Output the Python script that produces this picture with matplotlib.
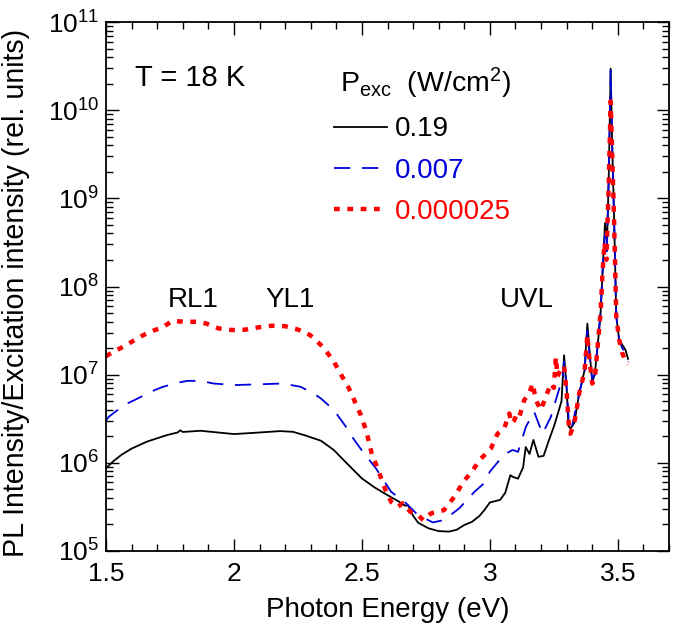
import numpy as np
import matplotlib
matplotlib.use("Agg")
import matplotlib.pyplot as plt
from matplotlib.ticker import MultipleLocator, LogLocator, LogFormatterMathtext, NullFormatter

plt.rcParams["font.family"] = ["Liberation Sans", "DejaVu Sans"]
plt.rcParams["mathtext.fontset"] = "custom"
plt.rcParams["mathtext.rm"] = "Liberation Sans"
plt.rcParams["mathtext.it"] = "Liberation Sans:italic"

# photon energy (eV) and PL intensity / excitation intensity (rel. units)
energy_019 = [1.50, 1.53, 1.56, 1.60, 1.66, 1.70, 1.74, 1.78, 1.79, 1.80, 1.87, 1.95,
              2.00, 2.08, 2.18, 2.23, 2.28, 2.34, 2.39, 2.41, 2.45, 2.50, 2.55, 2.60,
              2.64, 2.67, 2.68, 2.70, 2.72, 2.76, 2.80, 2.84, 2.87, 2.90, 2.93, 2.96,
              2.98, 3.00, 3.04, 3.06, 3.08, 3.09, 3.11, 3.13, 3.14, 3.155, 3.17, 3.19,
              3.21, 3.23, 3.25, 3.27, 3.28, 3.29, 3.30, 3.307, 3.315, 3.33, 3.35, 3.37,
              3.381, 3.39, 3.40, 3.41, 3.425, 3.433, 3.44, 3.45, 3.458, 3.465, 3.472,
              3.478, 3.485, 3.494, 3.505, 3.517, 3.53, 3.54]
pl_019 = [8.7e5, 1.05e6, 1.23e6, 1.45e6, 1.74e6, 1.9e6, 2.07e6, 2.21e6, 2.34e6, 2.24e6,
          2.31e6, 2.19e6, 2.12e6, 2.19e6, 2.29e6, 2.25e6, 2.04e6, 1.78e6, 1.4e6, 1.22e6,
          9.3e5, 6.65e5, 5.25e5, 4.3e5, 3.7e5, 3.26e5, 3.31e5, 2.51e5, 2.09e5, 1.81e5,
          1.68e5, 1.66e5, 1.74e5, 1.97e5, 2.14e5, 2.51e5, 2.95e5, 3.55e5, 3.8e5, 4.57e5,
          7.24e5, 6.92e5, 6.61e5, 8.91e5, 1.51e6, 1.26e6, 1.82e6, 1.17e6, 1.2e6, 1.78e6,
          2.57e6, 3.98e6, 5.01e6, 1.66e7, 7.08e6, 2.63e6, 2.45e6, 2.82e6, 6.31e6, 1.12e7,
          3.8e7, 1.78e7, 8.3e6, 1.0e7, 2.82e7, 5.25e7, 1.41e8, 5.25e8, 3.16e8, 2.0e9,
          2.95e10, 3.98e9, 6.76e8, 4.57e7, 2.51e7, 2.19e7, 1.91e7, 1.51e7]

energy_0007 = [1.50, 1.51, 1.57, 1.61, 1.69, 1.72, 1.78, 1.82, 1.87, 1.92, 2.00, 2.09,
               2.19, 2.26, 2.31, 2.34, 2.39, 2.41, 2.44, 2.47, 2.50, 2.555, 2.614, 2.673,
               2.718, 2.777, 2.82, 2.88, 2.94, 2.978, 3.00, 3.037, 3.06, 3.089, 3.11,
               3.141, 3.173, 3.19, 3.206, 3.238, 3.27, 3.283, 3.29, 3.30, 3.31, 3.32,
               3.35, 3.37, 3.381, 3.39, 3.40, 3.41, 3.425, 3.433, 3.44, 3.45, 3.457,
               3.465, 3.472, 3.478, 3.485, 3.494, 3.505, 3.517, 3.53, 3.54]
pl_0007 = [3.02e6, 3.31e6, 4.52e6, 5.13e6, 6.68e6, 7.24e6, 8.13e6, 8.51e6, 8.51e6, 7.94e6,
           7.62e6, 7.76e6, 7.94e6, 7.29e6, 6.14e6, 5.37e6, 3.98e6, 3.31e6, 2.51e6, 1.82e6,
           1.38e6, 8.63e5, 4.7e5, 3.47e5, 2.57e5, 2.11e5, 2.24e5, 3.04e5, 4.7e5, 5.89e5,
           7.94e5, 1.07e6, 1.26e6, 1.4e6, 1.33e6, 2.57e6, 3.8e6, 2.82e6, 2.14e6, 3.31e6,
           6.76e6, 8.71e6, 1.41e7, 7.08e6, 2.63e6, 2.51e6, 6.31e6, 1.07e7, 3.16e7, 1.58e7,
           8.91e6, 1.0e7, 2.82e7, 5.25e7, 1.41e8, 3.98e8, 2.51e8, 2.0e9, 2.82e10, 3.98e9,
           6.31e8, 4.57e7, 2.51e7, 2.0e7, 1.78e7, 1.41e7]

energy_000025 = [1.50, 1.518, 1.569, 1.608, 1.647, 1.68, 1.725, 1.758, 1.81, 1.855, 1.892,
                 1.94, 1.992, 2.044, 2.095, 2.147, 2.199, 2.251, 2.297, 2.346, 2.387, 2.413,
                 2.45, 2.473, 2.496, 2.518, 2.54, 2.562, 2.584, 2.614, 2.64, 2.659, 2.675,
                 2.688, 2.718, 2.74, 2.77, 2.821, 2.866, 2.896, 2.93, 2.959, 3.004, 3.03,
                 3.056, 3.076, 3.085, 3.095, 3.105, 3.115, 3.134, 3.154, 3.167, 3.18, 3.199,
                 3.219, 3.238, 3.25, 3.258, 3.264, 3.275, 3.29, 3.30, 3.31, 3.315, 3.33,
                 3.35, 3.37, 3.381, 3.39, 3.40, 3.41, 3.425, 3.433, 3.44, 3.448, 3.455,
                 3.465, 3.472, 3.478, 3.485, 3.494, 3.505, 3.517, 3.53, 3.54]
pl_000025 = [1.62e7, 1.74e7, 2.09e7, 2.43e7, 2.82e7, 3.12e7, 3.49e7, 4.07e7, 3.98e7, 3.98e7,
             3.8e7, 3.35e7, 3.21e7, 3.24e7, 3.44e7, 3.59e7, 3.55e7, 3.24e7, 2.82e7, 2.09e7,
             1.46e7, 1.07e7, 6.92e6, 4.9e6, 3.47e6, 2.24e6, 1.22e6, 8.63e5, 5.58e5, 3.61e5,
             3.16e5, 3.47e5, 3.16e5, 2.79e5, 2.57e5, 2.24e5, 2.67e5, 2.91e5, 4.31e5, 6.1e5,
             7.94e5, 1.07e6, 1.45e6, 2.14e6, 2.45e6, 3.63e6, 2.82e6, 3.02e6, 3.55e6, 3.31e6,
             5.13e6, 6.17e6, 7.94e6, 5.13e6, 3.98e6, 5.62e6, 7.94e6, 7.08e6, 1.58e7, 9.55e6,
             1.12e7, 1.26e7, 6.31e6, 2.34e6, 2.14e6, 2.82e6, 6.31e6, 1.07e7, 2.82e7, 1.41e7,
             7.94e6, 8.91e6, 2.82e7, 5.25e7, 1.41e8, 3.16e8, 2.0e8, 1.58e9, 1.26e10, 3.16e9,
             6.31e8, 4.57e7, 2.51e7, 1.78e7, 1.41e7, 1.32e7]

power_labels = ["0.19", "0.007", "0.000025"]
band_labels = ["RL1", "YL1", "UVL"]
band_pos = [1.841, 2.219, 3.146]


def main():
    fig = plt.figure(figsize=(6.75, 6.33), dpi=100)
    ax = fig.add_axes([106 / 675, 1 - 551 / 633, 563 / 675, 529 / 633])

    ax.plot(energy_019, pl_019, color="black", lw=1.3, label=power_labels[0])
    ax.plot(energy_0007, pl_0007, color="#0000dd", lw=1.3,
            linestyle=(0, (9, 6.5)), label=power_labels[1])
    ax.plot(energy_000025, pl_000025, color="#ff0000", lw=3.2,
            linestyle=(0, (1.3, 1.7)), label=power_labels[2])

    ax.set_yscale("log")
    ax.set_xlim(1.5, 3.7)
    ax.set_ylim(1e5, 1e11)

    ax.xaxis.set_major_locator(MultipleLocator(0.5))
    ax.xaxis.set_minor_locator(MultipleLocator(0.1))
    ax.xaxis.set_major_formatter(plt.FuncFormatter(lambda v, p: f"{v:g}"))
    ax.yaxis.set_major_locator(LogLocator(base=10, numticks=10))
    ax.yaxis.set_minor_locator(LogLocator(base=10, subs=np.arange(2, 10), numticks=20))
    ax.yaxis.set_major_formatter(LogFormatterMathtext())
    ax.yaxis.set_minor_formatter(NullFormatter())

    ax.tick_params(which="both", direction="in", top=True, right=True, width=1.0,
                   labelsize=19)
    ax.tick_params(which="major", length=9)
    ax.tick_params(axis="x", which="major", pad=8)
    ax.tick_params(axis="y", which="major", pad=5)
    ax.tick_params(which="minor", length=5)
    for sp in ax.spines.values():
        sp.set_linewidth(1.3)

    ax.set_xlabel("Photon Energy (eV)", fontsize=20, labelpad=8)
    ax.set_ylabel("PL Intensity/Excitation intensity (rel. units)", fontsize=20.6)
    ax.yaxis.set_label_coords(-0.135, 0.488)

    ax.text(0.052, 0.894, "T = 18 K", transform=ax.transAxes, fontsize=21,
            ha="left", va="center")
    for lab, xp in zip(band_labels, band_pos):
        ax.text(xp, 7.0e7, lab, fontsize=20, ha="center", va="center")

    ax.legend(title="P$_{\\mathrm{exc}}$  (W/cm$^{2}$)", loc="upper left",
              bbox_to_anchor=(0.405, 0.917), frameon=False, fontsize=20,
              title_fontsize=20.5, handlelength=1.9, handletextpad=0.3,
              labelspacing=0.55, borderpad=0, borderaxespad=0,
              labelcolor="linecolor", alignment="right")

    fig.savefig("out.png", dpi=100)


if __name__ == "__main__":
    main()
